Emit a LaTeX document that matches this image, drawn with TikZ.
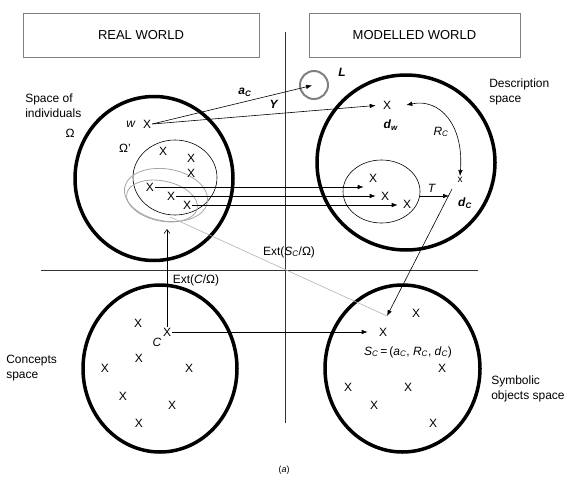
\documentclass[tikz,border=0pt]{standalone}
\usepackage{fontspec}
\setmainfont{Liberation Sans}
\usetikzlibrary{arrows.meta}
\newcommand{\isub}[2]{\textit{#1}\textsubscript{\textit{#2}}}
\newcommand{\bsub}[2]{\textbf{\textit{#1}}\textsubscript{\textbf{\textit{#2}}}}

\begin{document}
\begin{tikzpicture}[x=1pt,y=-1pt,semithick]
            \tikzset{mk/.style={inner sep=1pt, font=\fontsize{12}{12}\selectfont},
            lbl/.style={inner sep=1pt, font=\fontsize{12}{15}\selectfont, align=left},
            titlebox/.style={draw=gray, thick, font=\fontsize{13}{13}\selectfont},
            spc/.style={line width=3.5pt},
            arr/.style={-{Latex[length=6pt,width=4.5pt]}}}
            \useasboundingbox (0,0) rectangle (567,479);

            \node[titlebox, minimum width=236pt, minimum height=44pt] (real) at (141,35) {REAL WORLD};
            \node[titlebox, minimum width=211pt, minimum height=44pt] (model) at (414.5,35) {MODELLED WORLD};
            \draw[black!80] (285,32) -- (285,423);
            \draw[black!80] (41,270) -- (478,270);

            % the four spaces
            \draw[spc] (154,178.5) ellipse (79 and 82);
            \draw[spc] (406,162.5) ellipse (89 and 87.5);
            \draw[spc] (160,368.5) ellipse (77 and 83.5);
            \draw[spc] (402.5,368.5) ellipse (77.5 and 83.5);
            \draw (175,177.5) ellipse (42 and 37.5);
            \draw (381.5,191.5) ellipse (38.5 and 31.5);
            \draw[gray!70, thick] (166,195) ellipse[x radius=42, y radius=26, rotate=-10];
            \draw[gray!70, thick] (162,201) ellipse[x radius=36, y radius=20, rotate=-12];
            \node[circle, draw=gray, line width=2pt, minimum width=28pt, minimum height=26pt, inner sep=0pt] (Lc) at (314,85) {};

            % individuals
            \node[mk] (w) at (147,124) {X};
            \node[mk] (i1) at (163,151) {X};
            \node[mk] (i2) at (191,158) {X};
            \node[mk] (i3) at (191,173) {X};
            \node[mk] (i4) at (150,187) {X};
            \node[mk] (i5) at (171,196) {X};
            \node[mk] (i6) at (187,205) {X};

            % descriptions
            \node[mk] (dw) at (387,105) {X};
            \node[mk] (t1) at (373,178) {X};
            \node[mk] (t2) at (385,196) {X};
            \node[mk] (t3) at (407,204) {X};
            \node[mk, font=\fontsize{10}{10}\selectfont] (dC) at (460,180) {x};

            % concepts
            \node[mk] (c) at (167,332) {X};
            \foreach \p [count=\i] in {(138,323),(139,358),(105,368),(189,368),(123,396),(172,405),(139,423)}
              \node[mk] (c\i) at \p {X};

            % symbolic objects
            \node[mk] (sc) at (383,332) {X};
            \foreach \p [count=\i] in {(416,313),(442,368),(348,387),(408,387),(374,405),(433,423)}
              \node[mk] (s\i) at \p {X};

            \coordinate (tT) at (420,196);
            \coordinate (tE) at (449,196);
            \coordinate (dCs) at (452,189);
            \coordinate (scn) at (387,316);
            \coordinate (eb) at (170,217);
            \coordinate (ext) at (167,229);

            \draw[arr, shorten >=2pt] (w.east) -- (Lc.center);
            \draw[arr, shorten >=6pt] (w.east) -- (dw.west);
            \draw[arr] (i4.east) -- ([xshift=-4pt]i4.east -| t1.west);
            \draw[arr] (i5.east) -- ([xshift=-4pt]i5.east -| t2.west);
            \draw[arr] (i6.east) -- ([xshift=-4pt]i6.east -| t3.west);
            \draw[arr] (tT) -- (tE);
            \draw[{Latex[length=6pt,width=4.5pt]}-{Latex[length=6pt,width=4.5pt]}] ([xshift=14pt]dw.east) .. controls (440,98) and (464,125) .. (dC.north);
            \draw[arr] (dCs) -- (scn);
            \draw[gray!60] (eb) -- (scn);
            \draw[-{Straight Barb[length=4pt,width=6pt]}] (c.north) -- (ext);
            \draw[arr, shorten >=10pt] (c.east) -- (sc.west);

            % labels
            \node[lbl, anchor=north west] (spind) at (24,93) {Space of\\individuals};
            \node[lbl] (om) at (70,133) {Ω};
            \node[lbl] (om2) at (125,148) {Ω’};
            \node[lbl] (wl) at (131,124) {\textit{w}};
            \node[lbl] (acl) at (245,92) {\bsub{a}{C}};
            \node[lbl] (yl) at (274,104) {\textbf{\textit{Y}}};
            \node[lbl] (ll) at (342,72) {\textbf{\textit{L}}};
            \node[lbl, anchor=north west] (desc) at (488,78) {Description\\space};
            \node[lbl] (dwl) at (391,125) {\bsub{d}{w}};
            \node[lbl] (rcl) at (441,132) {\isub{R}{C}};
            \node[lbl] (tl) at (432,188) {\textit{T}};
            \node[lbl] (dcl) at (465,203) {\bsub{d}{C}};
            \node[lbl] (extS) at (289,252) {Ext(\isub{S}{C}/Ω)};
            \node[lbl] (extC) at (196,280) {Ext(\textit{C}/Ω)};
            \node[lbl] (cl) at (157,342) {\textit{C}};
            \node[lbl] (scl) at (408,352) {\isub{S}{C}\,=\,(\isub{a}{C}, \isub{R}{C}, \isub{d}{C})};
            \node[lbl, anchor=north west] (conc) at (5,354) {Concepts\\space};
            \node[lbl, anchor=north west] (symb) at (490,374) {Symbolic\\objects space};
            \node[inner sep=1pt, font=\fontsize{9}{9}\selectfont] (cap) at (284,470) {(\textit{a})};
\end{tikzpicture}
\end{document}
